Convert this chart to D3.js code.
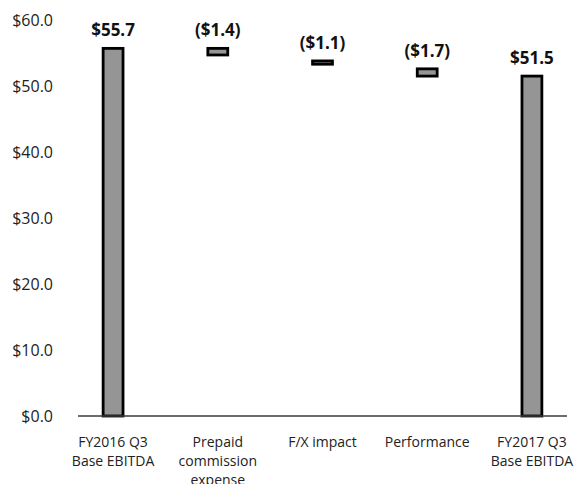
<!DOCTYPE html>
<html>
<head>
<meta charset="utf-8">
<script src="https://cdn.jsdelivr.net/npm/d3@7"></script>
<style>
  html, body { margin: 0; padding: 0; background: #fff; }
  svg { display: block; }
</style>
</head>
<body>
<svg id="chart" width="575" height="484"></svg>
<script>
// ---- Data ----
const categories = ["FY2016 Q3 Base EBITDA", "Prepaid commission expense", "F/X impact", "Performance", "FY2017 Q3 Base EBITDA"];
const categoryLines = [["FY2016 Q3", "Base EBITDA"], ["Prepaid", "commission", "expense"], ["F/X impact"], ["Performance"], ["FY2017 Q3", "Base EBITDA"]];
const barLow  = [0,    54.7, 53.3, 51.5, 0];
const barHigh = [55.7, 55.7, 53.8, 52.6, 51.5];
const valueLabels = ["$55.7", "($1.4)", "($1.1)", "($1.7)", "$51.5"];
const yTicks = [0, 10, 20, 30, 40, 50, 60];

// ---- Layout ----
const svg = d3.select("#chart");
const x = d3.scaleBand().domain(categories).range([78, 567]).paddingInner(0.81).paddingOuter(0.24);
const y = d3.scaleLinear().domain([0, 60]).range([416, 20]);

const font = "'Open Sans', 'Noto Sans', sans-serif";

// Y tick labels
svg.append("g").selectAll("text").data(yTicks).join("text")
  .attr("x", 53)
  .attr("y", d => y(d))
  .attr("dy", "0.36em")
  .attr("text-anchor", "end")
  .attr("font-family", font)
  .attr("font-size", 16)
  .attr("fill", "#222")
  .text(d => "$" + d.toFixed(1));

// Bars
const bars = categories.map((c, i) => ({ c, lo: barLow[i], hi: barHigh[i], label: valueLabels[i], lines: categoryLines[i] }));

svg.append("g").selectAll("rect").data(bars).join("rect")
  .attr("x", d => x(d.c))
  .attr("width", x.bandwidth())
  .attr("y", d => y(d.hi))
  .attr("height", d => y(d.lo) - y(d.hi))
  .attr("fill", "#959595")
  .attr("stroke", "#000")
  .attr("stroke-width", 2.8);

// Baseline axis
svg.append("line")
  .attr("x1", x.range()[0]).attr("x2", x.range()[1])
  .attr("y1", y(0)).attr("y2", y(0))
  .attr("stroke", "#3a3a3a")
  .attr("stroke-width", 1.6);

// Value labels
svg.append("g").selectAll("text").data(bars).join("text")
  .attr("x", d => x(d.c) + x.bandwidth() / 2)
  .attr("y", d => y(d.hi) - 12)
  .attr("text-anchor", "middle")
  .attr("font-family", font)
  .attr("font-size", 17)
  .attr("font-weight", "bold")
  .attr("fill", "#111")
  .text(d => d.label);

// Category labels
const cat = svg.append("g").selectAll("text").data(bars).join("text")
  .attr("text-anchor", "middle")
  .attr("font-family", font)
  .attr("font-size", 14)
  .attr("fill", "#222");
cat.each(function(d) {
  const t = d3.select(this);
  const cx = x(d.c) + x.bandwidth() / 2;
  d.lines.forEach((ln, j) => {
    t.append("tspan").attr("x", cx).attr("y", 447 + j * 19).text(ln);
  });
});
</script>
</body>
</html>
